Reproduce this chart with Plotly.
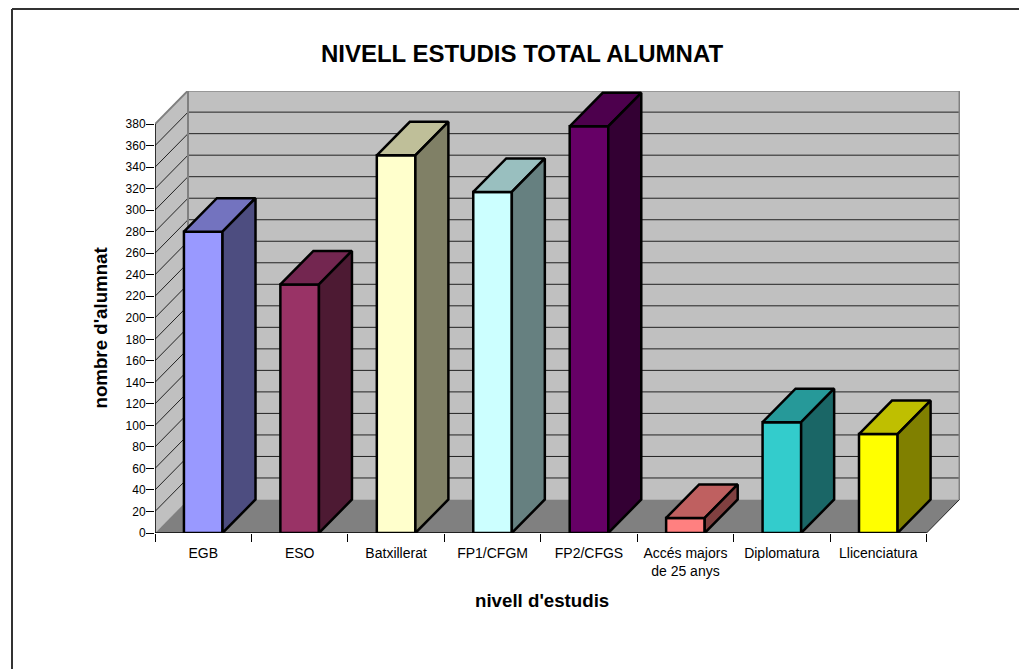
import plotly.graph_objects as go

categories = ["EGB", "ESO", "Batxillerat", "FP1/CFGM", "FP2/CFGS", "Accés majors<br>de 25 anys", "Diplomatura", "Llicenciatura"]
values = [280, 231, 351, 317, 378, 14, 103, 92]
front_colors = ["#9999FF", "#993366", "#FFFFCC", "#CCFFFF", "#660066", "#FF8080", "#33CCCC", "#FFFF00"]
top_colors = ["#7373BF", "#732650", "#BFBF99", "#99BFBF", "#4D004D", "#BF6060", "#269999", "#BFBF00"]
side_colors = ["#4D4D80", "#4D1A33", "#808066", "#668080", "#330033", "#804040", "#1A6666", "#808000"]
y_ticks = list(range(0, 381, 20))

W, H = 1019, 669
PX_L, PX_R, PX_T, PX_B = 155, 960, 91, 533
CAT_PX = 96.44
UNIT_PX = 1.076
DX = 33 / CAT_PX
DY = 33.5 / UNIT_PX
BAR_W = 0.4
X0 = -0.5
XN = 7.5
XMAX = X0 + (PX_R - PX_L) / CAT_PX
YMAX = (PX_B - PX_T) / UNIT_PX
YTOP = y_ticks[-1]
idx = list(range(len(categories)))

def poly(xs, ys, fill, line="rgba(0,0,0,0)", width=0):
    path = "M" + " L".join(f"{a},{b}" for a, b in zip(xs, ys)) + " Z"
    return dict(type="path", path=path, xref="x", yref="y", fillcolor=fill, layer="below",
                line=dict(color=line, width=width))

def seg(x0, y0, x1, y1, color, width):
    return dict(type="line", x0=x0, y0=y0, x1=x1, y1=y1, xref="x", yref="y", layer="below",
                line=dict(color=color, width=width))

shapes = [
    poly([X0 + DX, XN + DX, XN + DX, X0 + DX], [DY, DY, YTOP + DY, YTOP + DY], "#C0C0C0"),
    poly([X0, X0 + DX, X0 + DX, X0], [0, DY, YTOP + DY, YTOP], "#C0C0C0"),
    poly([X0, XN, XN + DX, X0 + DX], [0, 0, DY, DY], "#808080"),
]
for v in y_ticks[1:]:
    shapes.append(seg(X0 + DX, v + DY, XN + DX, v + DY, "#222222", 1))
    shapes.append(seg(X0, v, X0 + DX, v + DY, "#222222", 1))
shapes += [
    seg(X0, YTOP, X0 + DX, YTOP + DY, "#808080", 2),
    seg(X0 + DX, YTOP + DY, XN + DX, YTOP + DY, "#808080", 2),
    seg(X0 + DX, DY, X0 + DX, YTOP + DY, "#808080", 2),
    seg(XN + DX, DY, XN + DX, YTOP + DY, "#808080", 2),
    seg(XN, 0, XN + DX, DY, "#222222", 1),
    seg(X0, 0, XN, 0, "#000000", 1.5),
    seg(X0, 0, X0, YTOP, "#000000", 1.5),
]
# outer frame (top and left edges only)
fx = (12 - PX_L) / (PX_R - PX_L)
fy = 1 + (PX_T - 9) / (PX_B - PX_T)
shapes.append(dict(type="line", xref="paper", yref="paper", x0=fx, y0=fy, x1=1.1, y1=fy, line=dict(color="#333333", width=2)))
shapes.append(dict(type="line", xref="paper", yref="paper", x0=fx, y0=fy, x1=fx, y1=-0.4, line=dict(color="#333333", width=2)))

fig = go.Figure()
fig.add_trace(go.Bar(x=idx, y=values, width=BAR_W, marker=dict(color=front_colors, line=dict(color="#000000", width=2.5)), hoverinfo="skip"))
for i, v in zip(idx, values):
    l, r = i - BAR_W / 2, i + BAR_W / 2
    fig.add_trace(go.Scatter(x=[l, r, r + DX, l + DX, l], y=[v, v, v + DY, v + DY, v], mode="lines", fill="toself",
                             fillcolor=top_colors[i], line=dict(color="#000000", width=2.5), hoverinfo="skip", cliponaxis=False))
    fig.add_trace(go.Scatter(x=[r, r + DX, r + DX, r, r], y=[0, DY, v + DY, v, 0], mode="lines", fill="toself",
                             fillcolor=side_colors[i], line=dict(color="#000000", width=2.5), hoverinfo="skip", cliponaxis=False))
fig.add_trace(go.Scatter(x=[X0], y=[0], xaxis="x2", mode="markers", marker=dict(opacity=0), hoverinfo="skip"))

font = "Liberation Sans, Arial, sans-serif"
fig.update_layout(
    width=W, height=H, margin=dict(l=PX_L, r=W - PX_R, t=PX_T, b=H - PX_B, autoexpand=False),
    paper_bgcolor="#FFFFFF", plot_bgcolor="rgba(0,0,0,0)", showlegend=False, shapes=shapes,
    font=dict(family=font, color="#000000"),
    title=dict(text="<b>NIVELL ESTUDIS TOTAL ALUMNAT</b>", font=dict(size=24), x=522 / W, xanchor="center", y=1 - 54 / H, yanchor="middle"),
    xaxis=dict(range=[X0, XMAX], tickmode="array", tickvals=idx, ticktext=categories, ticks="outside", ticklen=7, tickcolor="rgba(0,0,0,0)",
               tickfont=dict(size=14), showgrid=False, zeroline=False, showline=False),
    xaxis2=dict(range=[X0, XMAX], overlaying="x", side="bottom", anchor="y", tickmode="array",
                tickvals=[X0 + k for k in range(len(categories) + 1)], ticktext=[""] * (len(categories) + 1),
                ticks="outside", ticklen=8, tickwidth=1, tickcolor="#000000", showgrid=False, zeroline=False, showline=False),
    yaxis=dict(range=[0, YMAX], tickmode="array", tickvals=y_ticks, ticks="outside", ticklen=8, tickwidth=1, tickcolor="#000000",
               tickfont=dict(size=12), ticklabelstandoff=-2, showgrid=False, zeroline=False, showline=False),
    annotations=[
        dict(text="<b>nombre d'alumnat</b>", xref="paper", yref="paper", x=(100 - PX_L) / (PX_R - PX_L), y=(PX_B - 328.5) / (PX_B - PX_T),
             showarrow=False, textangle=-90, font=dict(size=18.7), xanchor="center", yanchor="middle"),
        dict(text="<b>nivell d'estudis</b>", xref="paper", yref="paper", x=(541.5 - PX_L) / (PX_R - PX_L), y=(PX_B - 600) / (PX_B - PX_T),
             showarrow=False, font=dict(size=18.7), xanchor="center", yanchor="middle"),
    ],
)
fig.write_html("out.html", config=dict(displayModeBar=False),
               post_script="document.body.style.margin='0';")
